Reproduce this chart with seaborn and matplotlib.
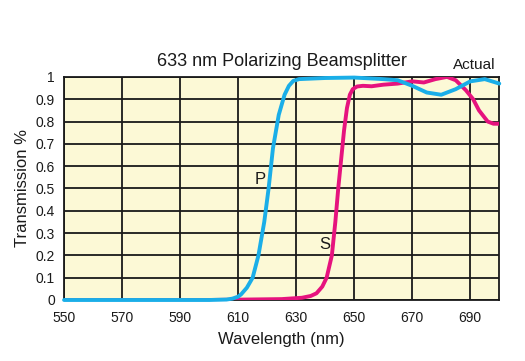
import numpy as np
import pandas as pd
import matplotlib
matplotlib.use("Agg")
import matplotlib.pyplot as plt
import seaborn as sns

# P and S transmission curves
p_wavelength = [550, 600, 606, 608, 610, 611, 613, 615, 617, 619, 620.5, 622, 624, 626, 627.5, 629, 631,
                640, 650, 660, 665, 670, 675, 680, 685, 690, 695, 700]
p_trans = [0.0, 0.0, 0.002, 0.006, 0.015, 0.025, 0.055, 0.1, 0.2, 0.35, 0.5, 0.68, 0.83, 0.92, 0.96, 0.982, 0.99,
           0.995, 0.997, 0.99, 0.985, 0.96, 0.93, 0.92, 0.945, 0.98, 0.99, 0.97]

s_wavelength = [550, 600, 625, 632, 635, 637, 639, 640.5, 642.3, 643.5, 644.5, 645.5, 646.5, 647.5,
                648.5, 649.5, 651, 653, 656, 660, 665, 670, 674, 678, 682, 685, 688.5, 691, 693, 696, 698, 700]
s_trans = [0.0, 0.0, 0.004, 0.01, 0.018, 0.03, 0.06, 0.1, 0.2, 0.35, 0.5, 0.63, 0.76, 0.86,
           0.92, 0.945, 0.957, 0.96, 0.958, 0.965, 0.97, 0.98, 0.975, 0.99, 1.0, 0.985, 0.94, 0.9, 0.85, 0.8, 0.79, 0.79]

x_ticks = [550, 570, 590, 610, 630, 650, 670, 690]
y_ticks = [0, 0.1, 0.2, 0.3, 0.4, 0.5, 0.6, 0.7, 0.8, 0.9, 1]
y_tick_labels = ["0", "0.1", "0.2", "0.3", "0.4", "0.5", "0.6", "0.7", "0.8", "0.9", "1"]

p_df = pd.DataFrame({"Wavelength": p_wavelength, "Transmission": p_trans})
s_df = pd.DataFrame({"Wavelength": s_wavelength, "Transmission": s_trans})

sns.set_style("white")
plt.rcParams["font.family"] = ["Liberation Sans", "DejaVu Sans"]

fig = plt.figure(figsize=(5.25, 3.61), dpi=100)
ax = fig.add_axes([0.122, 0.169, 0.829, 0.618])
ax.set_facecolor("#fcf9d6")

sns.lineplot(data=s_df, x="Wavelength", y="Transmission", color="#e6137e", linewidth=2.8,
             ax=ax, zorder=4, solid_capstyle="round", solid_joinstyle="round")
sns.lineplot(data=p_df, x="Wavelength", y="Transmission", color="#1aaee8", linewidth=2.8,
             ax=ax, zorder=5, solid_capstyle="round", solid_joinstyle="round", clip_on=False)

ax.set_xlim(550, 700)
ax.set_ylim(0, 1)
ax.set_xticks(x_ticks)
ax.set_yticks(y_ticks)
ax.set_yticklabels(y_tick_labels)
ax.grid(True, color="#1a1a1a", linewidth=1.3)
ax.set_axisbelow(True)
for spine in ax.spines.values():
    spine.set_visible(True)
    spine.set_color("#1a1a1a")
    spine.set_linewidth(1.3)
ax.tick_params(axis="both", length=0, labelsize=10, colors="#1a1a1a")
ax.tick_params(axis="x", pad=8)
ax.tick_params(axis="y", pad=6.5)

ax.set_xlabel("Wavelength (nm)", fontsize=12, color="#1a1a1a", labelpad=5)
ax.set_ylabel("Transmission %", fontsize=12, color="#1a1a1a", labelpad=4)
ax.set_title("633 nm Polarizing Beamsplitter", fontsize=13, color="#1a1a1a", pad=8)

ax.text(617.5, 0.54, "P", fontsize=12, color="#1a1a1a", ha="center", va="center")
ax.text(640, 0.25, "S", fontsize=12, color="#1a1a1a", ha="center", va="center")
ax.text(691.5, 1.036, "Actual", fontsize=11, color="#1a1a1a", ha="center", va="baseline")

fig.savefig("out.png", dpi=100)
